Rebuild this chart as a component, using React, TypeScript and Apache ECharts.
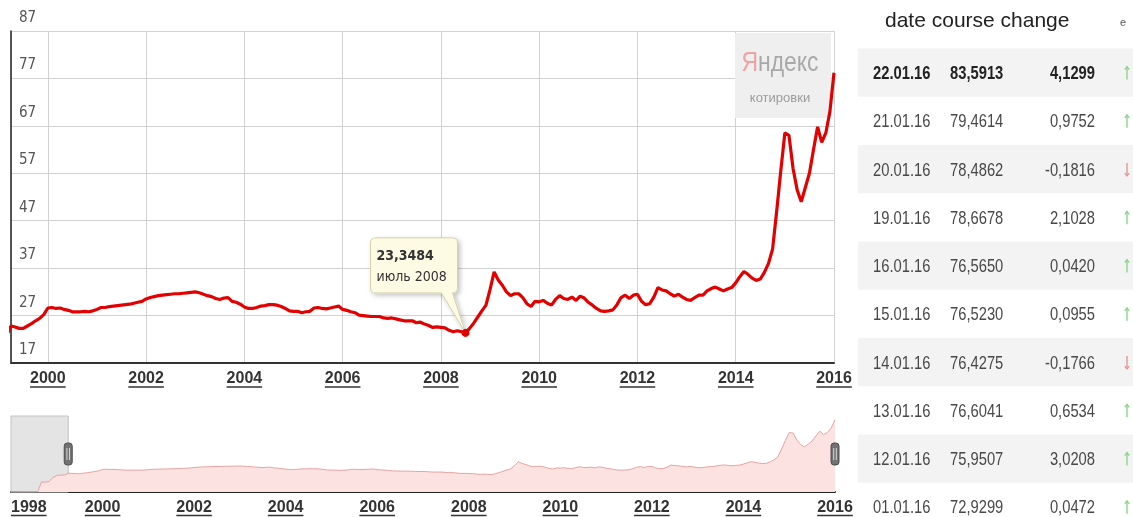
import { useEffect, useRef } from 'react';
import * as echarts from 'echarts';

// ---------- DATA ----------
const firstYear = 1998;
const rates1998 = [5.97, 6.03, 6.07, 6.11, 6.14, 6.18, 6.22, 6.3, 16.0, 15.9, 16.4, 20.6];
const rates1999 = [22.6, 22.9, 23.0, 24.8, 24.6, 24.3, 24.3, 24.8, 25.3, 25.9, 26.4, 27.2];
const rates2000 = [28.6, 28.7, 28.5, 28.6, 28.3, 28.1, 27.8, 27.8, 27.8, 27.9, 27.8, 28.0];
const rates2001 = [28.3, 28.7, 28.7, 28.9, 29.0, 29.1, 29.2, 29.3, 29.4, 29.6, 29.8, 30.0];
const rates2002 = [30.5, 30.8, 31.0, 31.2, 31.3, 31.4, 31.5, 31.6, 31.6, 31.7, 31.8, 31.9];
const rates2003 = [32.0, 31.8, 31.5, 31.2, 31.0, 30.6, 30.4, 30.7, 30.8, 30.0, 29.8, 29.4];
const rates2004 = [28.8, 28.5, 28.5, 28.7, 29.0, 29.1, 29.3, 29.3, 29.2, 28.9, 28.5, 28.0];
const rates2005 = [27.9, 27.9, 27.6, 27.8, 27.9, 28.6, 28.7, 28.5, 28.4, 28.6, 28.8, 29.0];
const rates2006 = [28.3, 28.1, 27.8, 27.6, 27.1, 27.0, 26.9, 26.8, 26.8, 26.8, 26.5, 26.4];
const rates2007 = [26.5, 26.3, 26.1, 25.9, 25.9, 25.9, 25.5, 25.6, 25.2, 24.9, 24.5, 24.6];
const rates2008 = [24.5, 24.4, 23.9, 23.6, 23.8, 23.6, 23.3484, 24.3, 25.4, 26.7, 28.0, 29.2];
const rates2009 = [32.5, 36.2, 34.5, 33.4, 32.0, 31.2, 31.6, 31.6, 30.8, 29.5, 28.9, 30.0];
const rates2010 = [29.9, 30.2, 29.6, 29.2, 30.4, 31.2, 30.6, 30.4, 30.9, 30.2, 31.1, 30.7];
const rates2011 = [29.8, 29.2, 28.5, 28.0, 27.9, 28.0, 28.2, 29.3, 30.8, 31.3, 30.6, 31.3];
const rates2012 = [31.5, 30.0, 29.3, 29.5, 30.9, 32.9, 32.4, 32.2, 31.6, 31.1, 31.5, 30.9];
const rates2013 = [30.4, 30.2, 30.8, 31.3, 31.3, 32.2, 32.7, 33.0, 32.6, 32.2, 32.6, 32.9];
const rates2014 = [33.9, 35.2, 36.3, 35.7, 34.9, 34.4, 34.7, 36.1, 38.0, 41.0, 49.0, 57.5];
const rates2015 = [65.5, 65.0, 58.0, 53.5, 51.0, 54.0, 57.0, 62.0, 66.8, 63.5, 65.5, 70.0];
const rates2016 = [78.2];
const yearlyRates = [
  rates1998, rates1999, rates2000, rates2001, rates2002, rates2003, rates2004,
  rates2005, rates2006, rates2007, rates2008, rates2009, rates2010, rates2011,
  rates2012, rates2013, rates2014, rates2015, rates2016,
];

const yMin = 17;
const yMax = 87;
const yStep = 10;
const navYMax = 82;
const navYears = [1998, 2016];
const windowStart = '1999-04';
const windowEnd = '2016-01';
const highlightMonth = '2008-07';
const ruMonths = ['январь', 'февраль', 'март', 'апрель', 'май', 'июнь', 'июль', 'август', 'сентябрь', 'октябрь', 'ноябрь', 'декабрь'];

const tableHeader = 'date course change';
const tableDates = ['22.01.16', '21.01.16', '20.01.16', '19.01.16', '16.01.16', '15.01.16', '14.01.16', '13.01.16', '12.01.16', '01.01.16'];
const tableCourse = [83.5913, 79.4614, 78.4862, 78.6678, 76.565, 76.523, 76.4275, 76.6041, 75.9507, 72.9299];
const tableChange = [4.1299, 0.9752, -0.1816, 2.1028, 0.042, 0.0955, -0.1766, 0.6534, 3.0208, 0.0472];

// ---------- helpers ----------
const ym = (s: string) => {
  const [y, m] = s.split('-').map(Number);
  return y + (m - 1) / 12;
};
const fmt4 = (v: number) => v.toFixed(4).replace('.', ',');

const COND = "'DejaVu Sans Condensed', 'Liberation Sans Narrow', sans-serif";
const SANS = "'Liberation Sans', Arial, sans-serif";
const NARROW_X = 0.82;

const seriesData: [number, number][] = [];
yearlyRates.forEach((arr, yi) => {
  arr.forEach((v, mi) => seriesData.push([firstYear + yi + mi / 12, v]));
});

const hx = ym(highlightMonth);
const hPoint = seriesData.find((p) => Math.abs(p[0] - hx) < 1e-6)!;
const hMonthIdx = Number(highlightMonth.split('-')[1]) - 1;
const hYear = highlightMonth.split('-')[0];

const isEvenYear = (v: number) => Math.abs(v - Math.round(v)) < 1e-6 && Math.round(v) % 2 === 0;
const yearLabel = (v: number) => (isEvenYear(v) ? String(Math.round(v)) : '');
const X_LABEL_FONT = { fontSize: 16, fontWeight: 'bold' as const, fontFamily: SANS };

const bubblePath =
  'path://M5,0 H82 Q87,0 87,5 V50 Q87,55 82,55 L95,95 L71,55 H5 Q0,55 0,50 V5 Q0,0 5,0 Z';

export default function App() {
  const ref = useRef<HTMLDivElement>(null);

  useEffect(() => {
    if (!ref.current) return;
    const chart = echarts.init(ref.current, null, { renderer: 'svg' });

    const graphics: any[] = [];
    // watermark
    graphics.push({
      type: 'rect', z: 1, shape: { x: 735, y: 33, width: 96, height: 85 },
      style: { fill: '#efefef' }, silent: true,
    });
    graphics.push({
      type: 'text', z: 1, x: 780, y: 61, scaleX: NARROW_X, silent: true,
      style: {
        text: '{r|Я}{g|ндекс}', align: 'center', verticalAlign: 'middle',
        rich: {
          r: { fill: '#eea3a3', fontSize: 28, fontFamily: SANS },
          g: { fill: '#a9a9a9', fontSize: 28, fontFamily: SANS },
        },
      },
    });
    graphics.push({
      type: 'text', z: 1, x: 780, y: 97, silent: true,
      style: { text: 'котировки', align: 'center', verticalAlign: 'middle', fill: '#9c9c9c', fontSize: 13, fontFamily: SANS },
    });
    // table
    graphics.push({
      type: 'text', x: 885, y: 19,
      style: { text: tableHeader, align: 'left', verticalAlign: 'middle', fill: '#222', fontSize: 21, fontFamily: SANS },
    });
    graphics.push({
      type: 'text', x: 1123, y: 22,
      style: { text: 'e', align: 'center', verticalAlign: 'middle', fill: '#555', fontSize: 11, fontFamily: SANS },
    });
    const rowTop = 48.4;
    const rowH = 48.25;
    tableDates.forEach((d, i) => {
      const top = rowTop + rowH * i;
      const cy = top + rowH / 2;
      if (i % 2 === 0) {
        graphics.push({ type: 'rect', shape: { x: 858, y: top, width: 275, height: rowH }, style: { fill: '#f3f3f3' } });
      }
      const bold = i === 0;
      const base = {
        fontSize: 18, fontFamily: SANS, fontWeight: bold ? 'bold' : 'normal',
        fill: bold ? '#222' : '#484848', verticalAlign: 'middle',
      };
      graphics.push({ type: 'text', x: 873, y: cy, scaleX: NARROW_X, style: { ...base, text: d, align: 'left' } });
      graphics.push({ type: 'text', x: 950, y: cy, scaleX: NARROW_X, style: { ...base, text: fmt4(tableCourse[i]), align: 'left' } });
      graphics.push({ type: 'text', x: 1095, y: cy, scaleX: NARROW_X, style: { ...base, text: fmt4(tableChange[i]), align: 'right' } });
      const up = tableChange[i] >= 0;
      const col = up ? '#8fd28f' : '#e59595';
      const ax = 1127;
      const tipY = up ? cy - 6 : cy + 7;
      const tailY = up ? cy + 7 : cy - 6;
      const d2 = up ? 3 : -3;
      graphics.push({
        type: 'line', shape: { x1: ax, y1: tailY, x2: ax, y2: tipY },
        style: { stroke: col, lineWidth: 1.4 },
      });
      graphics.push({
        type: 'polyline', shape: { points: [[ax - 2.2, tipY + d2], [ax, tipY], [ax + 2.2, tipY + d2]] },
        style: { stroke: col, lineWidth: 1.3, fill: null },
      });
    });

    const option: any = {
      animation: false,
      grid: [
        { left: 11, top: 31, width: 823, height: 332, outerBoundsMode: 'none', containLabel: false },
        { left: 11, top: 416, width: 824, height: 76, outerBoundsMode: 'none', containLabel: false },
      ],
      xAxis: [
        {
          type: 'value', gridIndex: 0, splitNumber: 8, min: ym(windowStart), max: ym(windowEnd),
          axisLine: { show: true, onZero: false, lineStyle: { color: '#333', width: 2 } },
          axisTick: { show: false },
          splitLine: { show: true, lineStyle: { color: '#d2d2d2', width: 1 } },
          axisLabel: { margin: 6, formatter: yearLabel, color: '#333', lineHeight: 16, ...X_LABEL_FONT },
        },
        {
          type: 'value', gridIndex: 1, min: navYears[0], max: navYears[1], interval: 2,
          axisLine: { show: true, onZero: false, lineStyle: { color: '#222', width: 2 } },
          axisTick: { show: false },
          splitLine: { show: false },
          axisLabel: {
            margin: 6, formatter: yearLabel, color: '#333', lineHeight: 16, alignMinLabel: 'left', ...X_LABEL_FONT,
          },
        },
      ],
      yAxis: [
        {
          type: 'value', gridIndex: 0, min: yMin, max: yMax, interval: yStep,
          axisLine: { show: true, lineStyle: { color: '#222', width: 1.5 } },
          axisTick: { show: false },
          splitLine: { show: true, lineStyle: { color: '#d2d2d2', width: 1 } },
          axisLabel: {
            inside: true, margin: 8, verticalAlign: 'bottom', padding: [0, 0, 5, 0],
            fontSize: 15, lineHeight: 18, color: '#555', fontFamily: COND,
          },
        },
        {
          type: 'value', gridIndex: 1, min: (e: any) => e.min, max: navYMax, show: false,
          splitLine: { show: false },
        },
      ],
      graphic: graphics,
      series: [
        {
          type: 'line', xAxisIndex: 0, yAxisIndex: 0, data: seriesData, showSymbol: false,
          z: 3, lineStyle: { color: '#e30000', width: 3.2 }, itemStyle: { color: '#e30000' },
          markPoint: {
            silent: true,
            data: [
              {
                coord: hPoint, symbol: bubblePath, symbolSize: [95, 95], symbolOffset: [-47.5, -47.5],
                itemStyle: {
                  color: '#fdfbe3', borderColor: '#d5d1ae', borderWidth: 1,
                  shadowBlur: 5, shadowColor: 'rgba(0,0,0,0.25)', shadowOffsetX: 2, shadowOffsetY: 2,
                },
                label: { show: false },
              },
              {
                coord: hPoint, symbol: 'circle', symbolSize: 8,
                itemStyle: { color: '#e30000' }, label: { show: false },
              },
              {
                coord: hPoint, symbol: 'circle', symbolSize: 1,
                itemStyle: { color: 'rgba(0,0,0,0)' },
                label: {
                  show: true, position: 'inside', offset: [-89, -88], align: 'left', verticalAlign: 'top',
                  formatter: `{a|${fmt4(hPoint[1])}}\n{b|${ruMonths[hMonthIdx]} ${hYear}}`,
                  rich: {
                    a: { fontSize: 14, fontWeight: 'bold', color: '#333', fontFamily: COND, lineHeight: 21 },
                    b: { fontSize: 14, color: '#333', fontFamily: COND, lineHeight: 21 },
                  },
                },
              },
            ],
          },
        },
        {
          type: 'line', xAxisIndex: 1, yAxisIndex: 1, data: seriesData, showSymbol: false,
          silent: true,
          lineStyle: { color: '#e6a3a3', width: 1 }, itemStyle: { color: '#e6a3a3' },
          areaStyle: { color: '#fde2e2', opacity: 1 },
          markArea: {
            silent: true,
            itemStyle: { color: 'rgba(195,195,195,0.45)', borderColor: '#c2c2c2', borderWidth: 1 },
            data: [[{ xAxis: navYears[0] }, { xAxis: ym(windowStart) }]],
          },
        },
      ],
    };
    chart.setOption(option);

    // underlines and window handles, placed through the axes' own scales
    const ctx = document.createElement('canvas').getContext('2d')!;
    ctx.font = `bold ${X_LABEL_FONT.fontSize}px ${SANS}`;
    const extra: any[] = [];
    const toX = (axisIndex: number, v: number) =>
      chart.convertToPixel({ xAxisIndex: axisIndex } as any, v) as unknown as number;
    const addUnderline = (axisIndex: number, year: number, baseY: number, alignLeft: boolean) => {
      const px = toX(axisIndex, year);
      const w = ctx.measureText(String(year)).width;
      const x1 = alignLeft ? px : px - w / 2;
      extra.push({
        type: 'line', silent: true,
        shape: { x1, y1: baseY, x2: x1 + w, y2: baseY },
        style: { stroke: '#333', lineWidth: 1.5 },
      });
    };
    const mainBase = (chart.convertToPixel({ yAxisIndex: 0 } as any, yMin) as unknown as number) + 24;
    const navBottomVal = Math.min(...seriesData.map((p) => p[1]));
    const navBottom = chart.convertToPixel({ yAxisIndex: 1 } as any, navBottomVal) as unknown as number;
    const navTop = chart.convertToPixel({ yAxisIndex: 1 } as any, navYMax) as unknown as number;
    const [zs, ze] = [ym(windowStart), ym(windowEnd)];
    for (let y = Math.ceil(zs / 2) * 2; y <= ze + 1e-6; y += 2) addUnderline(0, y, mainBase, false);
    for (let y = navYears[0]; y <= navYears[1]; y += 2) addUnderline(1, y, navBottom + 23.5, y === navYears[0]);
    const handleMid = (navTop + navBottom) / 2;
    [zs, ze].forEach((v) => {
      const hxp = toX(1, v);
      extra.push({
        type: 'rect', z: 10, silent: true,
        shape: { x: hxp - 4, y: handleMid - 11, width: 8, height: 22, r: 3 },
        style: { fill: '#727272', stroke: '#4d4d4d', lineWidth: 1 },
      });
      [-1.3, 1.3].forEach((dx) => {
        extra.push({
          type: 'line', z: 11, silent: true,
          shape: { x1: hxp + dx, y1: handleMid - 6, x2: hxp + dx, y2: handleMid + 6 },
          style: { stroke: '#d8d8d8', lineWidth: 1 },
        });
      });
    });
    chart.setOption({ graphic: [...graphics, ...extra] });

    return () => chart.dispose();
  }, []);

  return <div ref={ref} style={{ position: 'fixed', left: 0, top: 0, width: 1133, height: 517 }} />;
}
